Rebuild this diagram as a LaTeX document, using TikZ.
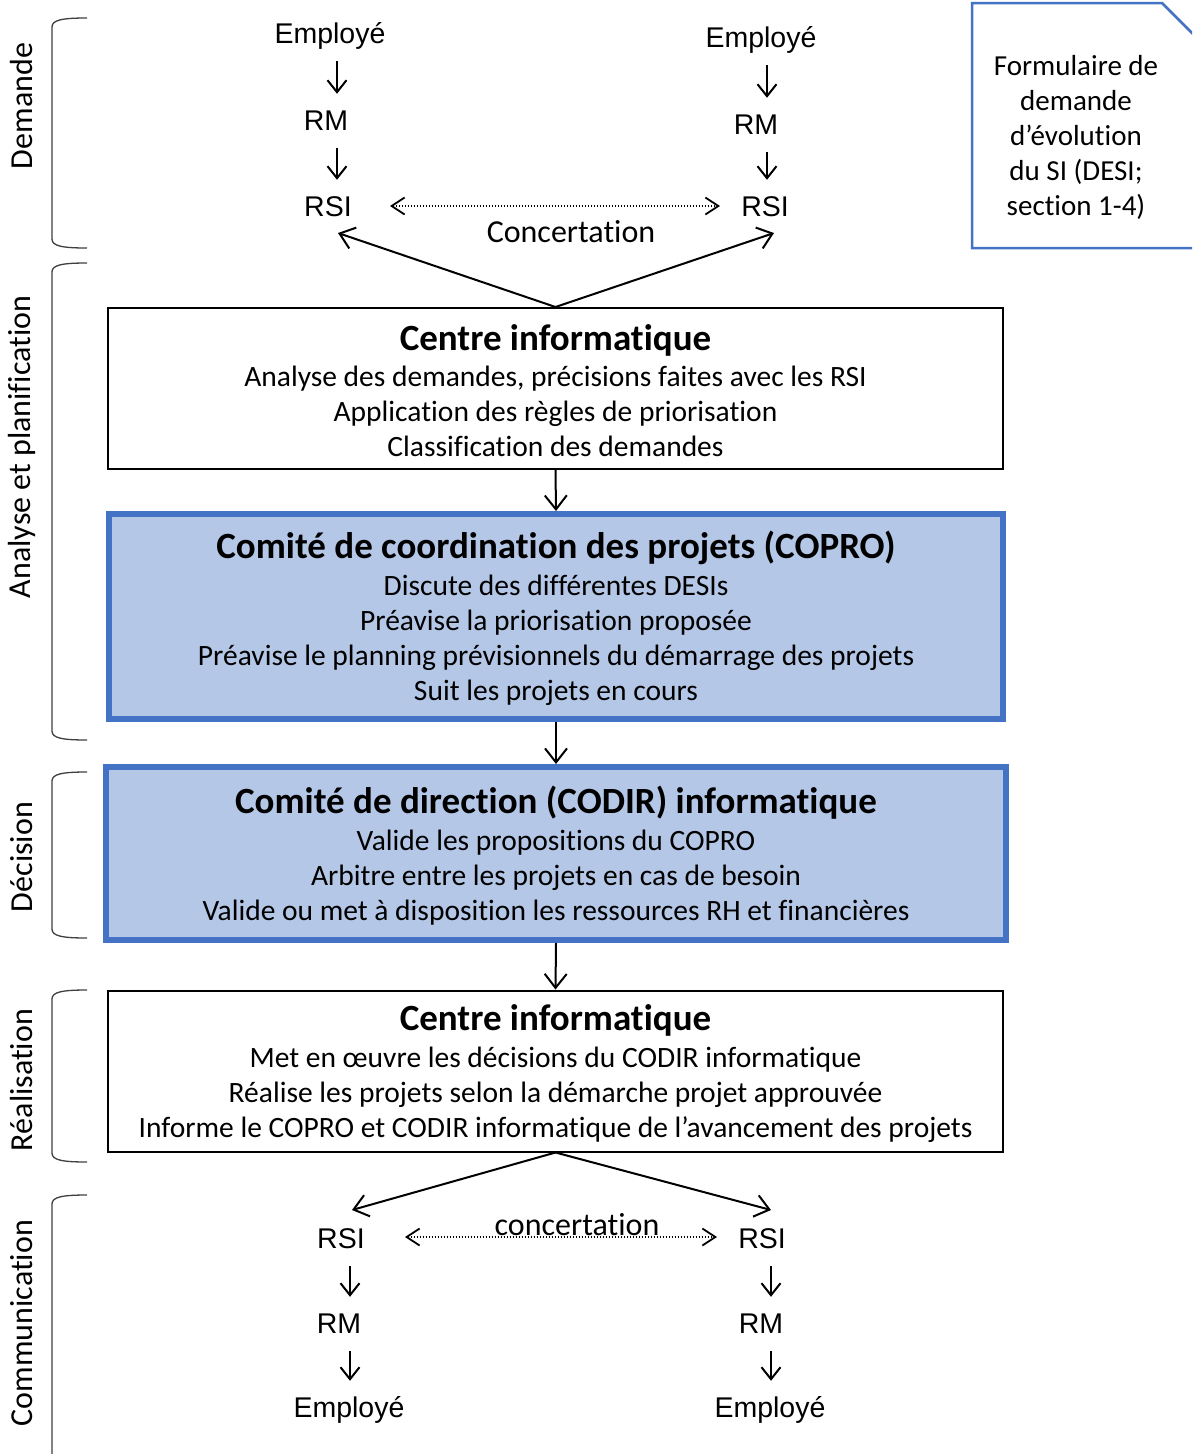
\documentclass[tikz,border=0pt]{standalone}
\usepackage{fontspec}
\setmainfont{Carlito}[Ligatures=NoCommon]
\newfontfamily\arialf{Liberation Sans}
\usetikzlibrary{arrows.meta}
\definecolor{bblue}{HTML}{4472C4}
\definecolor{lblue}{HTML}{B4C7E7}
\definecolor{bracec}{HTML}{404040}
\tikzset{
 arr/.style={line width=2pt, -{Straight Barb[length=14pt,width=22pt,line width=2pt]}},
 sarr/.style={line width=2pt, -{Straight Barb[length=12pt,width=19pt,line width=2pt]}, shorten <=12pt, shorten >=15pt},
 darr/.style={line width=1.5pt, dash pattern=on 1.5pt off 1.5pt, {Straight Barb[length=13pt,width=17pt,line width=1.8pt]}-{Straight Barb[length=13pt,width=17pt,line width=1.8pt]}},
 lab/.style={font=\arialf\fontsize{28.5}{34}\selectfont, inner sep=0pt, text height=21pt, text depth=6pt, anchor=base},
 calib/.style={font=\fontsize{32}{38}\selectfont, inner sep=0pt, anchor=base},
 side/.style={font=\fontsize{32}{38}\selectfont, rotate=90, inner sep=0pt},
 brace/.style={draw=bracec, line width=1.3pt},
 wbox/.style={draw=black, line width=2pt, fill=white, align=center, font=\fontsize{29.5}{35}\selectfont, inner sep=0pt},
 bbox/.style={draw=bblue, line width=6pt, fill=lblue, align=center, font=\fontsize{29.5}{35}\selectfont, inner sep=0pt},
 docbox/.style={align=center, font=\fontsize{29}{35}\selectfont, inner sep=0pt},
}
\newcommand\ttl[2]{{\rule{0pt}{#1}\fontsize{37}{44}\selectfont\bfseries #2}}
\begin{document}
\begin{tikzpicture}[x=1pt,y=-1pt]
\useasboundingbox (0,0) rectangle (1192,1454);
\fill[white] (0,0) rectangle (1192,1454);

% side braces and document shape
\begin{scope}
\clip (0,0) rectangle (1192,1454);
\draw[brace] (87,18) .. controls (62,18) and (52,20) .. (52,27) -- (52,239) .. controls (52,246) and (62,248) .. (87,248);
\draw[brace] (87,263) .. controls (62,263) and (52,265) .. (52,272) -- (52,731) .. controls (52,738) and (62,740) .. (87,740);
\draw[brace] (87,772) .. controls (62,772) and (52,774) .. (52,781) -- (52,929) .. controls (52,936) and (62,938) .. (87,938);
\draw[brace] (87,990) .. controls (62,990) and (52,992) .. (52,999) -- (52,1153) .. controls (52,1160) and (62,1162) .. (87,1162);
\draw[brace] (87,1195) .. controls (62,1195) and (52,1197) .. (52,1204) -- (52,1470);
\draw[bblue, line width=2.5pt] (1200,248) -- (972,248) -- (972,3) -- (1162,3) -- (1240,81);
\end{scope}
\node[side] (sdem) at (22,106) {Demande};
\node[side] (sana) at (22,447) {Analyse et planification};
\node[side] (sdec) at (22,857) {Décision};
\node[side] (srea) at (22,1080) {Réalisation};
\node[side] (scom) at (22,1323) {Communication};

\node[docbox] (desi) at (1076,137) {Formulaire de\\demande\\d’évolution\\du SI (DESI;\\section 1-4)};

% top flow
\coordinate (axL) at (337,0);
\coordinate (axR) at (767,0);
\node[lab] (e1) at (330,43) {Employé};
\node[lab] (m1) at (326,130) {RM};
\node[lab] (r1) at (328,216) {RSI};
\node[lab] (e2) at (761,47) {Employé};
\node[lab] (m2) at (756,134) {RM};
\node[lab] (r2) at (765,216) {RSI};
\draw[sarr] (e1.south -| axL) -- (m1.north -| axL);
\draw[sarr] (m1.south -| axL) -- (r1.north -| axL);
\draw[sarr] (e2.south -| axR) -- (m2.north -| axR);
\draw[sarr] (m2.south -| axR) -- (r2.north -| axR);
\coordinate (dl1) at (390,206);
\coordinate (dr1) at (720,206);
\draw[darr] (dl1) -- (dr1);
\node[calib] (conc1) at (571,242) {Concertation};

% boxes
\node[wbox, minimum width=895pt, minimum height=161pt] (ci1) at (555.5,388.5)
 {\ttl{30pt}{Centre informatique}\\[1pt]
  Analyse des demandes, précisions faites avec les RSI\\
  Application des règles de priorisation\\
  Classification des demandes};
\node[bbox, minimum width=894pt, minimum height=205pt] (copro) at (556,616.5)
 {\ttl{32pt}{Comité de coordination des projets (COPRO)}\\[2pt]
  Discute des différentes DESIs\\
  Préavise la priorisation proposée\\
  Préavise le planning prévisionnels du démarrage des projets\\
  Suit les projets en cours};
\node[bbox, minimum width=900pt, minimum height=173pt] (codir) at (556,853.5)
 {\ttl{32pt}{Comité de direction (CODIR) informatique}\\[2pt]
  Valide les propositions du COPRO\\
  Arbitre entre les projets en cas de besoin\\
  Valide ou met à disposition les ressources RH et financières};
\node[wbox, minimum width=895pt, minimum height=161pt] (ci2) at (555.5,1071)
 {\ttl{31pt}{Centre informatique}\\[2pt]
  Met en œuvre les décisions du CODIR informatique\\
  Réalise les projets selon la démarche projet approuvée\\
  Informe le COPRO et CODIR informatique de l’avancement des projets};

\coordinate (tl) at (338,233);
\coordinate (tr) at (774,233);
\draw[arr] (ci1.north) -- (tl);
\draw[arr] (ci1.north) -- (tr);
\draw[arr] (ci1.south) -- (copro.north);
\draw[arr] (copro.south) -- (codir.north);
\draw[arr] (codir.south) -- (ci2.north);

% bottom flow
\coordinate (bl) at (352,1210);
\coordinate (br) at (771,1210);
\draw[arr] (ci2.south) -- (bl);
\draw[arr] (ci2.south) -- (br);
\coordinate (bxL) at (350,0);
\coordinate (bxR) at (771,0);
\node[lab] (r3) at (341,1248) {RSI};
\node[lab] (m3) at (339,1333) {RM};
\node[lab] (e3) at (349,1417) {Employé};
\node[lab] (r4) at (762,1248) {RSI};
\node[lab] (m4) at (761,1333) {RM};
\node[lab] (e4) at (770,1417) {Employé};
\draw[sarr] (r3.south -| bxL) -- (m3.north -| bxL);
\draw[sarr] (m3.south -| bxL) -- (e3.north -| bxL);
\draw[sarr] (r4.south -| bxR) -- (m4.north -| bxR);
\draw[sarr] (m4.south -| bxR) -- (e4.north -| bxR);
\coordinate (dl2) at (405,1237);
\coordinate (dr2) at (717,1237);
\draw[darr] (dl2) -- (dr2);
\node[calib] (conc2) at (577,1235) {concertation};
\end{tikzpicture}
\end{document}
